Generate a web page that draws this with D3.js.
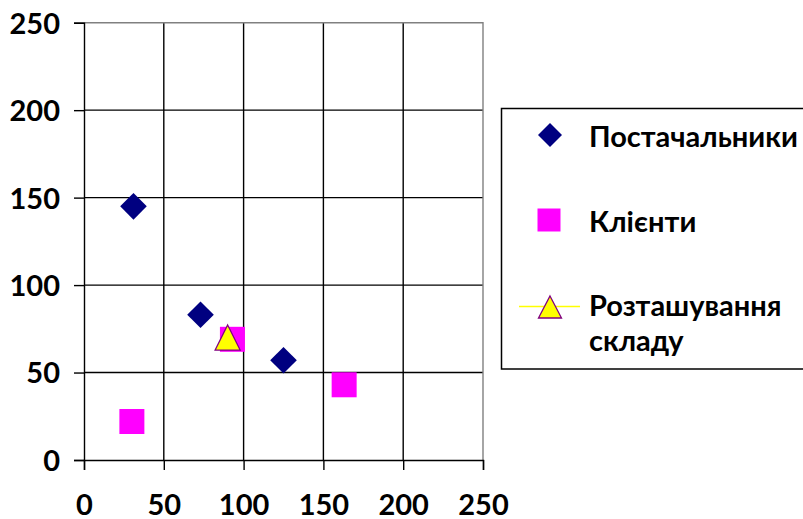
<!DOCTYPE html>
<html>
<head>
<meta charset="utf-8">
<script src="https://cdn.jsdelivr.net/npm/d3@7"></script>
<style>
  html, body { margin: 0; padding: 0; background: #fff; }
  svg { display: block; }
  text { font-family: Lato, "Open Sans", sans-serif; font-weight: bold; fill: #000; }
</style>
</head>
<body>
<svg id="chart" width="803" height="519"></svg>
<script>
// Suppliers, clients and the computed warehouse location (x, y coordinates)
const supplierX = [31, 73, 125];
const supplierY = [145, 83, 57];
const clientX = [30, 93, 163];
const clientY = [22, 69, 43];
const warehouseX = [90];
const warehouseY = [70];

const tickValues = [0, 50, 100, 150, 200, 250];
const seriesNames = ["Постачальники", "Клієнти", ["Розташування", "складу"]];

const FONT = 29;
const svg = d3.select("#chart");

const x = d3.scaleLinear().domain([0, 250]).range([84, 483]);
const y = d3.scaleLinear().domain([0, 250]).range([460, 22.7]);

// Grid lines (inner), black
const grid = svg.append("g");
grid.selectAll(".vg").data(tickValues.slice(1, -1)).join("line")
  .attr("x1", d => x(d)).attr("x2", d => x(d))
  .attr("y1", y(250)).attr("y2", y(0))
  .attr("stroke", "#000").attr("stroke-width", 1.4);
grid.selectAll(".hg").data(tickValues.slice(1, -1)).join("line")
  .attr("y1", d => y(d)).attr("y2", d => y(d))
  .attr("x1", x(0)).attr("x2", x(250))
  .attr("stroke", "#000").attr("stroke-width", 1.4);

// Plot area border (top and right), grey
svg.append("path")
  .attr("d", `M${x(0)},${y(250)}H${x(250)}V${y(0)}`)
  .attr("fill", "none").attr("stroke", "#808080").attr("stroke-width", 1.4);

// Axes
const yAxis = d3.axisLeft(y).tickValues(tickValues).tickSize(10).tickPadding(14);
const xAxis = d3.axisBottom(x).tickValues(tickValues).tickSize(10);

const gy = svg.append("g").attr("transform", `translate(${x(0)},0)`).call(yAxis);
const gx = svg.append("g").attr("transform", `translate(0,${y(0)})`).call(xAxis);

[gx, gy].forEach(g => {
  g.select(".domain").attr("stroke", "#000").attr("stroke-width", 1.4);
  g.selectAll(".tick line").attr("stroke", "#000").attr("stroke-width", 1.4);
  g.selectAll(".tick text").attr("font-size", FONT).attr("font-family", "Lato, 'Open Sans', sans-serif")
    .attr("font-weight", "bold").attr("fill", "#000");
});
gy.selectAll(".tick text").attr("dy", "0.36em");
gx.selectAll(".tick text").attr("y", 55).attr("dy", 0);

// Marker shapes
const diamondPath = r => `M0,${-r}L${r},0L0,${r}L${-r},0Z`;
const squarePath = s => `M${-s/2},${-s/2}h${s}v${s}h${-s}Z`;
const trianglePath = (w, h) => `M0,${-h/2}L${w/2},${h/2}L${-w/2},${h/2}Z`;

const pts = (xs, ys) => xs.map((v, i) => ({ x: v, y: ys[i] }));

svg.append("g").selectAll("path").data(pts(supplierX, supplierY)).join("path")
  .attr("d", diamondPath(13.3))
  .attr("transform", d => `translate(${x(d.x)},${y(d.y)})`)
  .attr("fill", "#000080");

svg.append("g").selectAll("path").data(pts(clientX, clientY)).join("path")
  .attr("d", squarePath(25))
  .attr("transform", d => `translate(${x(d.x)},${y(d.y)})`)
  .attr("fill", "#ff00ff");

svg.append("g").selectAll("path").data(pts(warehouseX, warehouseY)).join("path")
  .attr("d", trianglePath(25, 25))
  .attr("transform", d => `translate(${x(d.x)},${y(d.y)})`)
  .attr("fill", "#ffff00").attr("stroke", "#800080").attr("stroke-width", 1.3);

// Legend
const legend = svg.append("g");
legend.append("rect")
  .attr("x", 501.5).attr("y", 108.5).attr("width", 320).attr("height", 260.5)
  .attr("fill", "#fff").attr("stroke", "#000").attr("stroke-width", 1.5);

legend.append("path").attr("d", diamondPath(12))
  .attr("transform", "translate(550,135)").attr("fill", "#000080");
legend.append("path").attr("d", squarePath(23))
  .attr("transform", "translate(549,220)").attr("fill", "#ff00ff");
legend.append("line").attr("x1", 519).attr("x2", 580).attr("y1", 306.5).attr("y2", 306.5)
  .attr("stroke", "#ffff00").attr("stroke-width", 1.5);
legend.append("path").attr("d", trianglePath(23, 22))
  .attr("transform", "translate(550,307)")
  .attr("fill", "#ffff00").attr("stroke", "#800080").attr("stroke-width", 1.3);

const labelX = 589;
legend.append("text").attr("x", labelX).attr("y", 146.5).attr("font-size", FONT).text(seriesNames[0]);
legend.append("text").attr("x", labelX).attr("y", 231.5).attr("font-size", FONT).text(seriesNames[1]);
const t3 = legend.append("text").attr("x", labelX).attr("y", 316).attr("font-size", FONT);
seriesNames[2].forEach((s, i) => t3.append("tspan").attr("x", labelX).attr("dy", i ? 35 : 0).text(s));
</script>
</body>
</html>
